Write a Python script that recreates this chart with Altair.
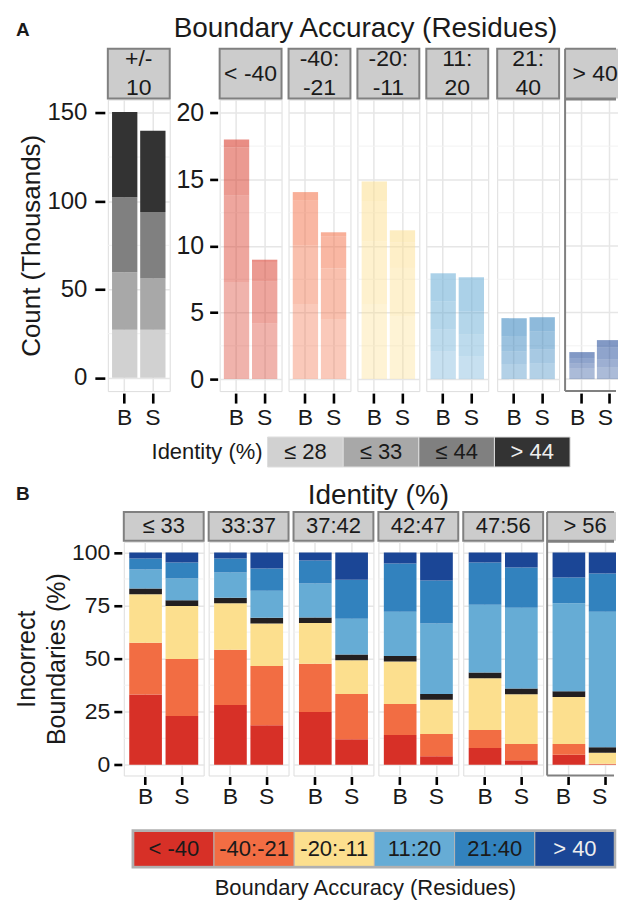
import altair as alt
import pandas as pd

FONT = "Liberation Sans"
TXT = "#1a1a1a"
GRID = "#e6e6e6"
MINOR = "#f2f2f2"
BORDER = "#808080"
STRIP_FILL = "#cccccc"
NOSTROKE = alt.ViewBackground(strokeOpacity=0)

# ---------------- shared categories ----------------
methods = ["B", "S"]
ident_bins = ["≤ 28", "≤ 33", "≤ 44", "> 44"]
ident_grays = ["#d1d1d1", "#a8a8a8", "#808080", "#333333"]
ident_alpha = [0.37, 0.55, 0.75, 1.0]

acc_cats = ["< -40", "-40:-21", "-20:-11", "11:20", "21:40", "> 40"]
acc_colors = ["#d73027", "#f26d43", "#fcdf8e", "#66acd5", "#3282be", "#1b4696"]
acc_colors_A = ["#d7301f", "#f26d43", "#fcdf8e", "#66acd5", "#3282be", "#1b4696"]
acc_strip_A = ["< -40", "-40: \n -21", "-20: \n -11", "11: \n 20", "21: \n 40", "> 40"]

# ---------------- panel A values (thousands, cumulative top of each identity bin) ----------------
center_B = [27.2, 59.8, 102.2, 150.5]
center_S = [27.2, 56.2, 93.8, 139.9]

lt40_B = [7.3, 13.8, 17.4, 18.0]
lt40_S = [4.2, 7.35, 8.8, 8.97]
m40_21_B = [5.6, 10.05, 13.4, 14.05]
m40_21_S = [4.48, 8.3, 10.73, 11.03]
m20_11_B = [5.6, 10.35, 13.38, 14.85]
m20_11_S = [4.75, 8.35, 10.28, 11.18]
p11_20_B = [2.1, 3.75, 5.85, 7.95]
p11_20_S = [1.73, 3.38, 5.1, 7.65]
p21_40_B = [1.13, 2.1, 3.23, 4.58]
p21_40_S = [1.2, 2.25, 3.6, 4.65]
gt40_B = [0.83, 1.2, 1.58, 2.03]
gt40_S = [0.9, 1.5, 2.4, 2.93]

offcenter_A = [(lt40_B, lt40_S), (m40_21_B, m40_21_S), (m20_11_B, m20_11_S),
               (p11_20_B, p11_20_S), (p21_40_B, p21_40_S), (gt40_B, gt40_S)]

# ---------------- panel B values (%, cumulative top of each class) ----------------
ident_groups = ["≤ 33", "33:37", "37:42", "42:47", "47:56", "> 56"]
stack_cats = ["< -40", "-40:-21", "-20:-11", "sep", "11:20", "21:40", "> 40"]
stack_colors = ["#d73027", "#f26d43", "#fcdf8e", "#231f20", "#66acd5", "#3282be", "#1b4696"]

le33_B = [33.1, 57.5, 80.3, 83.0, 92.0, 97.2, 100]
le33_S = [23.0, 49.9, 74.8, 77.5, 87.7, 95.3, 100]
i33_37_B = [28.2, 54.2, 76.1, 78.7, 90.6, 97.2, 100]
i33_37_S = [18.7, 46.6, 66.6, 69.3, 82.0, 92.4, 100]
i37_42_B = [24.9, 47.6, 66.8, 69.4, 85.4, 96.2, 100]
i37_42_S = [12.1, 33.4, 49.3, 52.0, 68.8, 87.2, 100]
i42_47_B = [14.0, 28.7, 48.7, 51.3, 72.1, 94.8, 100]
i42_47_S = [4.1, 14.5, 30.7, 33.4, 66.5, 86.8, 100]
i47_56_B = [7.9, 16.4, 40.8, 43.5, 75.4, 95.3, 100]
i47_56_S = [2.2, 9.8, 33.2, 35.9, 74.0, 92.9, 100]
gt56_B = [4.7, 9.8, 32.0, 34.6, 76.1, 88.2, 100]
gt56_S = [0.2, 0.5, 5.7, 8.3, 72.1, 90.1, 100]

pct_B_panels = [(le33_B, le33_S), (i33_37_B, i33_37_S), (i37_42_B, i37_42_S),
                (i42_47_B, i42_47_S), (i47_56_B, i47_56_S), (gt56_B, gt56_S)]


def stack_df(cumB, cumS, labels):
    rows = []
    for m, cum in (("B", cumB), ("S", cumS)):
        lo = 0.0
        for i, (lab, hi) in enumerate(zip(labels, cum)):
            rows.append(dict(method=m, cat=lab, idx=i, lo=lo, hi=hi))
            lo = hi
    return pd.DataFrame(rows)


ONE = pd.DataFrame({"d": [0]})


def x_axis(tick_size, offset, pad, band_pos=None):
    kw = dict(title=None, labelAngle=0, domain=False, tickSize=tick_size, tickWidth=2.6,
              tickColor="black", offset=offset, labelPadding=pad, labelFontSize=23,
              labelColor=TXT, labelFont=FONT, grid=True, gridColor=GRID, gridWidth=1.5)
    if band_pos is not None:
        kw["bandPosition"] = band_pos
    return alt.Axis(**kw)


def y_axis(values, show, title=None, title_size=26, tick_size=10, offset=3, pad=8, label_size=24,
           title_pad=2, line_h=None, grid=True):
    kw = dict(values=values, domain=False, grid=grid)
    if grid:
        kw.update(gridColor=GRID, gridWidth=1.5)
    if show:
        kw.update(labels=True, ticks=True, tickSize=tick_size, tickWidth=2.6, tickColor="black",
                  offset=offset, labelPadding=pad, labelFontSize=label_size, labelColor=TXT,
                  labelFont=FONT)
    else:
        kw.update(labels=False, ticks=False)
    if title is not None:
        kw.update(title=title, titleFontSize=title_size, titleFont=FONT, titleColor=TXT,
                  titleFontWeight="normal", titlePadding=title_pad)
        if line_h is not None:
            kw.update(titleLineHeight=line_h)
    else:
        kw.update(title=None)
    return alt.Axis(**kw)


def rule(x1, x2, y1, y2, color, width):
    enc = dict(x=alt.value(x1), y=alt.value(y1))
    if x2 != x1:
        enc["x2"] = alt.value(x2)
    if y2 != y1:
        enc["y2"] = alt.value(y2)
    return alt.Chart(ONE).mark_rule(color=color, strokeWidth=width).encode(**enc)


def panel(df, strip_label, W, PH, SH, strip_fs, strip_lh, ydomain, yticks, yaxis, xaxis_args, color,
          opacity, minor_vals, extra=None, full_w=None, strip_cx=None):
    cut = full_w is not None
    y_enc = alt.Y("lo:Q", scale=alt.Scale(domain=ydomain, nice=False, zero=False), axis=yaxis)
    if cut:
        # panel cut by the figure edge: same bar width / position as an uncut panel,
        # the right-hand bar runs off the edge
        step0 = full_w / 2.2
        bw0 = 0.9 * step0
        off0 = 0.15 * step0
        p_in = (W - 2 * bw0) / (W - bw0)
        sc = alt.Scale(domain=methods, paddingInner=p_in, paddingOuter=0)
        xax = x_axis(*xaxis_args, band_pos=off0 / bw0 + 0.5)
    else:
        off0 = 0
        sc = alt.Scale(domain=methods, paddingInner=0.1, paddingOuter=0.15)
        xax = x_axis(*xaxis_args)
    x_enc = alt.X("method:N", sort=methods, scale=sc, axis=xax)
    layers = []
    if cut:
        layers.append(alt.Chart(pd.DataFrame({"lo": yticks})).mark_rule(color=GRID, strokeWidth=1.5).encode(
            y=y_enc, x=alt.value(0), x2=alt.value(W)))
    layers.append(alt.Chart(pd.DataFrame({"lo": minor_vals})).mark_rule(color=MINOR, strokeWidth=1).encode(
        y=y_enc, x=alt.value(0), x2=alt.value(W)))
    enc = dict(x=x_enc, y=y_enc, y2="hi:Q", color=color)
    if opacity is not None:
        enc["opacity"] = opacity
    if cut:
        layers.append(alt.Chart(df[df["method"] == "B"]).mark_bar(xOffset=off0).encode(**enc))
        enc_s = dict(enc)
        enc_s["x"] = alt.X("method:N", sort=methods, scale=sc, axis=xax, bandPosition=0)
        enc_s["x2"] = alt.value(W)
        layers.append(alt.Chart(df[df["method"] == "S"]).mark_bar(xOffset=off0).encode(**enc_s))
    else:
        layers.append(alt.Chart(df).mark_bar().encode(**enc))
    sdf = pd.DataFrame({"t": [strip_label]})
    nlines = strip_label.count("\n") + 1
    cx = W / 2 if strip_cx is None else strip_cx
    if cut:
        layers.append(alt.Chart(sdf).mark_rect(fill=STRIP_FILL).encode(
            x=alt.value(0), x2=alt.value(W), y=alt.value(-SH - 1), y2=alt.value(-1)))
        layers += [rule(0, 0, -SH - 1, PH, BORDER, 2),
                   rule(0, W - 2, -SH - 1, -SH - 1, BORDER, 2),
                   rule(0, W - 2, -1, -1, BORDER, 2),
                   rule(0, W - 2, 0, 0, BORDER, 2),
                   rule(0, W - 2, PH, PH, BORDER, 2)]
    else:
        layers.append(alt.Chart(sdf).mark_rect(fill=STRIP_FILL, stroke=BORDER, strokeWidth=2).encode(
            x=alt.value(0), x2=alt.value(W), y=alt.value(-SH - 1), y2=alt.value(-1)))
    layers.append(alt.Chart(sdf).mark_text(font=FONT, fontSize=strip_fs, color=TXT, lineBreak="\n",
                                           lineHeight=strip_lh, baseline="middle").encode(
        text="t:N", x=alt.value(cx), y=alt.value(-SH / 2 - 1 - (nlines - 1) * strip_lh / 2)))
    layers += (extra or [])
    ch = alt.layer(*layers).properties(width=W, height=PH)
    if cut:
        ch = ch.properties(view=NOSTROKE)
    return ch


def text_mark(txt, x, y, size, weight="normal", align="left", color=TXT, baseline="alphabetic"):
    return alt.Chart(ONE).mark_text(
        font=FONT, fontSize=size, fontWeight=weight, color=color, align=align,
        baseline=baseline).encode(text=alt.value(txt), x=alt.value(x), y=alt.value(y))


def spacer():
    return rule(0, 0, 0, 0, "white", 0).properties(width=1, height=1, view=NOSTROKE)


# ---------------- title A ----------------
titleA = alt.layer(
    text_mark("A", 16, 35, 19, weight="bold"),
    text_mark("Boundary Accuracy (Residues)", 366, 36, 28, align="center"),
).properties(width=619, height=46, view=NOSTROKE)

# ---------------- row A ----------------
WA, PHA, SHA = 62, 292, 50
xa = (10, 2, 3)
yticks_A0 = [0, 50, 100, 150]
yticks_A = [0, 5, 10, 15, 20]

p0 = panel(stack_df(center_B, center_S, ident_bins), "+/-\n10", WA, PHA, SHA, 23, 29,
           [-7.5, 157.5], yticks_A0,
           y_axis(yticks_A0, True, title="Count (Thousands)", title_size=26,
                  tick_size=10, offset=3, pad=8, label_size=24, title_pad=2),
           xa,
           alt.Color("cat:N", scale=alt.Scale(domain=ident_bins, range=ident_grays), legend=None),
           None, [25, 75, 125],
           extra=[rule(-103, -103, -52, 336, "white", 1)])

rowA_panels = [spacer(), p0]
for i, (cat, (cb, cs)) in enumerate(zip(acc_cats, offcenter_A)):
    show = i == 0
    last = i == len(acc_cats) - 1
    ya = y_axis(yticks_A, show, tick_size=8, offset=2, pad=6, label_size=25, grid=not last)
    extra = [rule(WA + 3, WA + 3, 0, PHA, "white", 1)] if i == 3 else None
    rowA_panels.append(panel(
        stack_df(cb, cs, ident_bins), acc_strip_A[i], 53 if last else WA, PHA, SHA, 23, 29,
        [-0.9, 21.0], yticks_A, ya, xa,
        alt.value(acc_colors_A[i]),
        alt.Opacity("cat:N", scale=alt.Scale(domain=ident_bins, range=ident_alpha), legend=None),
        [2.5, 7.5, 12.5, 17.5], extra=extra,
        full_w=WA if last else None, strip_cx=30 if last else None))

rowA = alt.hconcat(*rowA_panels, spacing=3)

# ---------------- legend A ----------------
legA_df = pd.DataFrame({"lab": ident_bins})
legA_x = alt.X("lab:N", sort=ident_bins, axis=None,
               scale=alt.Scale(domain=ident_bins, range=[268, 571], paddingInner=0, paddingOuter=0))
legA_rect = alt.Chart(legA_df).mark_rect(stroke="#dddddd", strokeWidth=1).encode(
    x=legA_x, y=alt.value(1), y2=alt.value(31),
    color=alt.Color("lab:N", scale=alt.Scale(domain=ident_bins, range=ident_grays), legend=None))
legA_txt = alt.Chart(legA_df).mark_text(font=FONT, fontSize=22, baseline="middle").encode(
    x=legA_x, y=alt.value(16.5), text="lab:N",
    color=alt.when(alt.datum.lab == "> 44").then(alt.value("#eeeeee")).otherwise(alt.value(TXT)))
legA = alt.layer(
    legA_rect, legA_txt,
    text_mark("Identity (%)", 263, 16.5, 22, align="right", baseline="middle"),
).properties(width=619, height=34, view=NOSTROKE)

# ---------------- title B ----------------
titleB = alt.layer(
    text_mark("B", 16, 30, 19, weight="bold"),
    text_mark("Identity (%)", 379, 34, 28, align="center"),
).properties(width=619, height=39, view=NOSTROKE)

# ---------------- row B ----------------
WB, PHB, SHB = 80, 234, 29
xb = (8, 1, 1)
yticks_B = [0, 25, 50, 75, 100]
rowB_panels = [spacer()]
for i, (grp, (cb, cs)) in enumerate(zip(ident_groups, pct_B_panels)):
    last = i == len(ident_groups) - 1
    if i == 0:
        yb = y_axis(yticks_B, True, title=["Incorrect", "Boundaries (%)"], title_size=25,
                    tick_size=8, offset=2, pad=4, label_size=23, title_pad=2, line_h=30)
        extra = [rule(-121, -121, -31, 280, "white", 1)]
    else:
        yb = y_axis(yticks_B, False, grid=not last)
        extra = None
    rowB_panels.append(panel(
        stack_df(cb, cs, stack_cats), grp, 69 if last else WB, PHB, SHB, 22, 26, [-5, 105],
        yticks_B, yb, xb,
        alt.Color("cat:N", scale=alt.Scale(domain=stack_cats, range=stack_colors), legend=None),
        None, [12.5, 37.5, 62.5, 87.5], extra=extra,
        full_w=WB if last else None, strip_cx=38 if last else None))

rowB = alt.hconcat(*rowB_panels, spacing=1)

# ---------------- legend B ----------------
legB_df = pd.DataFrame({"lab": acc_cats})
legB_x = alt.X("lab:N", sort=acc_cats, axis=None,
               scale=alt.Scale(domain=acc_cats, range=[134, 616], paddingInner=0, paddingOuter=0))
legB_rect = alt.Chart(legB_df).mark_rect(stroke="#b5b5b5", strokeWidth=1).encode(
    x=legB_x, y=alt.value(9), y2=alt.value(44),
    color=alt.Color("lab:N", scale=alt.Scale(domain=acc_cats, range=acc_colors), legend=None))
legB_frame = alt.Chart(ONE).mark_rect(fillOpacity=0, stroke="#b0b0b0", strokeWidth=2.5).encode(
    x=alt.value(133), x2=alt.value(616), y=alt.value(8), y2=alt.value(45))
legB_txt = alt.Chart(legB_df).mark_text(font=FONT, fontSize=22, baseline="middle").encode(
    x=legB_x, y=alt.value(27), text="lab:N",
    color=alt.when(alt.datum.lab == "> 40").then(alt.value("#eeeeee")).otherwise(alt.value(TXT)))
legB = alt.layer(
    legB_rect, legB_frame, legB_txt,
    text_mark("Boundary Accuracy (Residues)", 366, 73, 22, align="center"),
).properties(width=619, height=78, view=NOSTROKE)

chart = alt.vconcat(titleA, rowA, legA, titleB, rowB, legB, spacing=0).resolve_scale(
    color="independent", opacity="independent"
).properties(
    padding={"left": 0, "top": 0, "right": 0, "bottom": 0}
).configure_view(
    stroke=BORDER, strokeWidth=2
).configure(
    font=FONT, background="white"
)

chart.save("out.html", embed_options={"renderer": "svg", "actions": False})
